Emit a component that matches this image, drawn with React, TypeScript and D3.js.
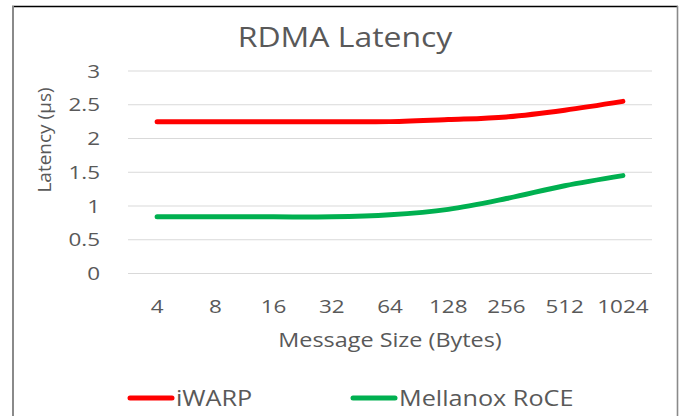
import * as d3 from 'd3'

const sizes = ['4', '8', '16', '32', '64', '128', '256', '512', '1024']
const iwarp = [2.25, 2.25, 2.25, 2.25, 2.25, 2.28, 2.32, 2.42, 2.55]
const roce = [0.84, 0.84, 0.84, 0.84, 0.87, 0.95, 1.11, 1.3, 1.45]
const yTicks = [0, 0.5, 1, 1.5, 2, 2.5, 3]

const series = [
  { name: 'iWARP', values: iwarp, color: '#ff0000' },
  { name: 'Mellanox RoCE', values: roce, color: '#00b050' },
]

const W = 683
const H = 416
const FONT = '"Open Sans", sans-serif'
const TXT = '#595959'
const SX = 1.2 // the picture's text is wider than the font

// horizontally stretched text, anchored at (x, y)
function Label({ x, y, size, anchor = 'start', dy = 0, children }) {
  return (
    <text
      transform={`translate(${x},${y}) scale(${SX},1)`}
      dy={dy}
      fontSize={size}
      fontFamily={FONT}
      fill={TXT}
      textAnchor={anchor}
    >
      {children}
    </text>
  )
}

export default function App() {
  const x = d3.scaleBand().domain(sizes).range([128, 652])
  const y = d3.scaleLinear().domain([0, 3]).range([273.5, 71])
  const cx = (s) => x(s) + x.bandwidth() / 2

  const line = d3
    .line<number>()
    .x((_, i) => cx(sizes[i]))
    .y((d) => y(d))
    .curve(d3.curveCardinal.tension(0))

  const legendX = [130, 353]

  return (
    <svg
      width={W}
      height={H}
      style={{ position: 'absolute', left: 0, top: 0, background: '#fff' }}
    >
      {/* chart frame */}
      <line x1={12} x2={678} y1={6.5} y2={6.5} stroke="#000" strokeWidth={1.3} />
      <line x1={13} x2={13} y1={6} y2={H} stroke="#8a8a8a" strokeWidth={2} />
      <line x1={677.5} x2={677.5} y1={6} y2={H} stroke="#8a8a8a" strokeWidth={1.6} />

      <Label x={345} y={46.7} size={26.6} anchor="middle">RDMA Latency</Label>

      {/* grid + y ticks */}
      {yTicks.map((t) => (
        <g key={t}>
          <line x1={128} x2={652} y1={y(t)} y2={y(t)} stroke="#d9d9d9" strokeWidth={1} />
          <Label x={100} y={y(t)} size={18.7} anchor="end" dy="0.36em">{String(t)}</Label>
        </g>
      ))}

      {/* x ticks */}
      {sizes.map((s) => (
        <Label key={s} x={cx(s)} y={313} size={18.7} anchor="middle">{s}</Label>
      ))}

      <Label x={390} y={347} size={19.5} anchor="middle">Message Size (Bytes)</Label>

      <text
        transform="translate(51,140) rotate(-90)"
        fontSize={19}
        fontFamily={FONT}
        fill={TXT}
        textAnchor="middle"
      >
        Latency (µs)
      </text>

      {/* lines */}
      {series.map((s) => (
        <path
          key={s.name}
          d={line(s.values)}
          fill="none"
          stroke={s.color}
          strokeWidth={5}
          strokeLinecap="round"
          strokeLinejoin="round"
        />
      ))}

      {/* legend */}
      {series.map((s, i) => (
        <g key={s.name}>
          <line
            x1={legendX[i]}
            x2={legendX[i] + 42}
            y1={398}
            y2={398}
            stroke={s.color}
            strokeWidth={5}
            strokeLinecap="round"
          />
          <Label x={legendX[i] + 46} y={405.7} size={21}>{s.name}</Label>
        </g>
      ))}
    </svg>
  )
}
